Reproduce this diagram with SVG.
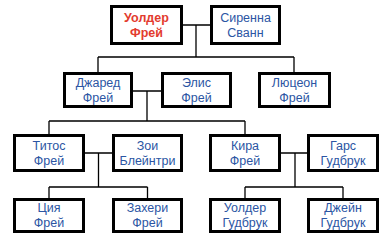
<svg xmlns="http://www.w3.org/2000/svg" width="387" height="245" viewBox="0 0 387 245">
<style>
.box{fill:#fff;stroke:#000;stroke-width:3}
.t{font-family:"Liberation Sans",Arial,sans-serif;font-size:12.5px;fill:#2b55a3;text-anchor:middle}
.r{fill:#e33b2e;font-weight:bold}
.c{fill:none;stroke:#000;stroke-width:1.3}
</style>
<rect width="387" height="245" fill="#fff"/>
<g id="connectors">
<path class="c" d="M183 25H210M196 25V57M98 57H294M98 57V72M294 57V72"/>
<path class="c" d="M133 91H161M147 91V121M49 121H245M49 121V134M245 121V134"/>
<path class="c" d="M85 153H112M98.5 153V187M49 187H147.5M49 187V198M147.5 187V198"/>
<path class="c" d="M281 153H307M295 153V187M245 187H343M245 187V198M343 187V198"/>
</g>
<g id="n-walder">
<rect class="box" x="111.5" y="6.5" width="70" height="37"/>
<text class="t r" x="146.5" y="22">Уолдер<tspan x="146.5" dy="15">Фрей</tspan></text>
</g>
<g id="n-sirenna">
<rect class="box" x="211.5" y="6.5" width="68" height="37"/>
<text class="t" x="245.5" y="22">Сиренна<tspan x="245.5" dy="15">Сванн</tspan></text>
</g>
<g id="n-jared">
<rect class="box" x="64.5" y="73.5" width="67" height="33"/>
<text class="t" x="98" y="87">Джаред<tspan x="98" dy="15">Фрей</tspan></text>
</g>
<g id="n-alice">
<rect class="box" x="162.5" y="73.5" width="68" height="33"/>
<text class="t" x="196.5" y="87">Элис<tspan x="196.5" dy="15">Фрей</tspan></text>
</g>
<g id="n-lucion">
<rect class="box" x="259.5" y="73.5" width="70" height="33"/>
<text class="t" x="294.5" y="87">Люцеон<tspan x="294.5" dy="15">Фрей</tspan></text>
</g>
<g id="n-titos">
<rect class="box" x="14.5" y="135.5" width="69" height="35"/>
<text class="t" x="49" y="150">Титос<tspan x="49" dy="15">Фрей</tspan></text>
</g>
<g id="n-zoe">
<rect class="box" x="113.5" y="135.5" width="68" height="35"/>
<text class="t" x="147.5" y="150">Зои<tspan x="147.5" dy="15">Блейнтри</tspan></text>
</g>
<g id="n-kyra">
<rect class="box" x="210.5" y="135.5" width="69" height="35"/>
<text class="t" x="245" y="150">Кира<tspan x="245" dy="15">Фрей</tspan></text>
</g>
<g id="n-garse">
<rect class="box" x="308.5" y="135.5" width="69" height="35"/>
<text class="t" x="343" y="150">Гарс<tspan x="343" dy="15">Гудбрук</tspan></text>
</g>
<g id="n-tsia">
<rect class="box" x="14.5" y="199.5" width="69" height="32"/>
<text class="t" x="49" y="212">Ция<tspan x="49" dy="15">Фрей</tspan></text>
</g>
<g id="n-zachery">
<rect class="box" x="113.5" y="199.5" width="68" height="32"/>
<text class="t" x="147.5" y="212">Захери<tspan x="147.5" dy="15">Фрей</tspan></text>
</g>
<g id="n-walder-g">
<rect class="box" x="210.5" y="199.5" width="69" height="32"/>
<text class="t" x="245" y="212">Уолдер<tspan x="245" dy="15">Гудбрук</tspan></text>
</g>
<g id="n-jeyne">
<rect class="box" x="308.5" y="199.5" width="69" height="32"/>
<text class="t" x="343" y="212">Джейн<tspan x="343" dy="15">Гудбрук</tspan></text>
</g>
</svg>
